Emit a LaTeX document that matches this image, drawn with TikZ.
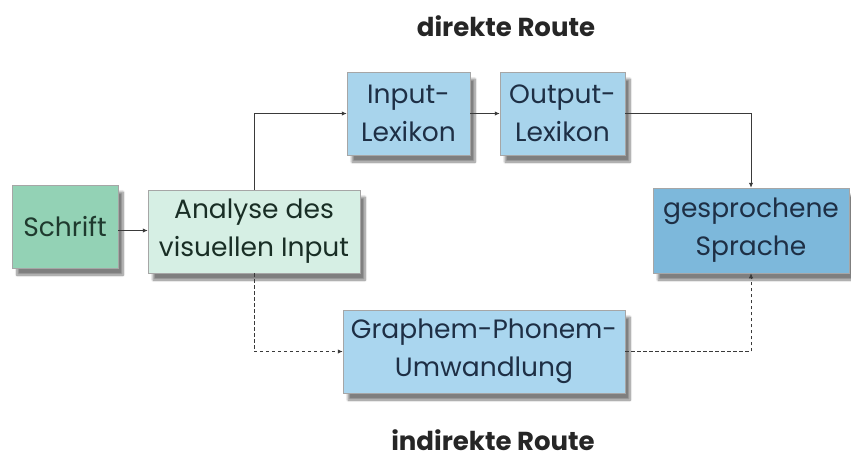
\documentclass[tikz,border=0pt]{standalone}
\usepackage{fontspec}
\setmainfont{Poppins}
\usetikzlibrary{arrows.meta,shadows.blur,calc}
\definecolor{schriftfill}{HTML}{93D2B5}
\definecolor{analysefill}{HTML}{D6EFE4}
\definecolor{lexfill}{HTML}{A8D4EC}
\definecolor{sprachfill}{HTML}{7DB8DB}
\definecolor{graphfill}{HTML}{AAD6EF}
\definecolor{navytext}{HTML}{1E2F45}
\definecolor{greentext}{HTML}{1F3A2E}
\definecolor{linecol}{HTML}{3A3A3A}
\begin{document}
\begin{tikzpicture}[x=1pt,y=-1pt,
  box/.style={draw=black!35, line width=0.5pt, minimum height=83pt, inner sep=0pt,
    align=center, text=navytext, font=\fontsize{26.5}{38}\selectfont,
    blur shadow={shadow xshift=5pt, shadow yshift=-7pt, shadow blur steps=8, shadow opacity=50}},
  conn/.style={draw=linecol, line width=0.9pt, -{Latex[length=5pt,width=4.5pt]}},
  dconn/.style={conn, dash pattern=on 3.5pt off 2.5pt},
  title/.style={font=\bfseries\fontsize{26}{30}\selectfont, text=black!85, inner sep=0pt}]
\useasboundingbox (0,0) rectangle (851,461);
\node[box, fill=schriftfill, text=greentext, minimum width=106pt] (schrift) at (65,226.5) {Schrift};
\node[box, fill=analysefill, text=greentext!80!black, minimum width=212pt] (analyse) at (254,231.5) {Analyse des\\visuellen Input};
\node[box, fill=lexfill, minimum width=123pt] (input) at (408.5,113.5) {Input-\\Lexikon};
\node[box, fill=lexfill, minimum width=125pt] (output) at (562.5,113.5) {Output-\\Lexikon};
\node[box, fill=sprachfill, minimum width=196pt, minimum height=85pt] (sprache) at (751,230.5) {gesprochene\\Sprache};
\node[box, fill=graphfill, minimum width=282pt] (graphem) at (484,351.5) {Graphem-Phonem-\\Umwandlung};
\node[title] (direkt) at (506,26) {direkte Route};
\node[title] (indirekt) at (493,440) {indirekte Route};
\draw[conn] ($(schrift.east)+(0,4)$) -- ($(schrift.east -| analyse.west)+(0,4)$);
\draw[conn] (analyse.north) |- (input.west);
\draw[conn] (input.east) -- (output.west);
\draw[conn] (output.east) -| (sprache.north);
\draw[dconn] (analyse.south) |- (graphem.west);
\draw[dconn] (graphem.east) -| (sprache.south);
\end{tikzpicture}
\end{document}
